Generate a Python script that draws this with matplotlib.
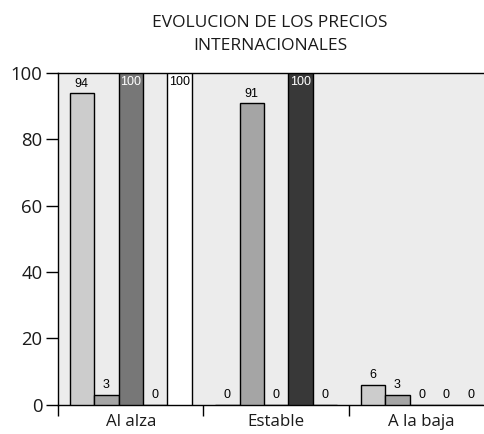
import matplotlib
matplotlib.use("Agg")
import matplotlib.pyplot as plt
import numpy as np

categories = ["Al alza", "Estable", "A la baja"]
series_values = [
    [94, 0, 6],
    [3, 91, 3],
    [100, 0, 0],
    [0, 100, 0],
    [100, 0, 0],
]
series_colors = ["#cccccc", "#a5a5a5", "#777777", "#383838", "#ffffff"]
label_inside_white = [False, False, True, True, False]
title = "EVOLUCION DE LOS PRECIOS\nINTERNACIONALES"
yticks = [0, 20, 40, 60, 80, 100]

W, H = 485, 434
fig = plt.figure(figsize=(W / 100, H / 100), dpi=100)
fig.patch.set_facecolor("white")
left, right = 58, 58 + 3 * 145.5
top, bottom = 73, 404.5
ax = fig.add_axes([left / W, 1 - bottom / H, (right - left) / W, (bottom - top) / H])
ax.set_facecolor("#ececec")

txtcol = "#1a1a1a"
n = len(series_values)
bw = 0.168
x = np.arange(len(categories))
for i, (vals, col) in enumerate(zip(series_values, series_colors)):
    pos = x + (i - (n - 1) / 2) * bw
    ax.bar(pos, vals, width=bw, color=col, edgecolor="black", linewidth=1.0, zorder=3)
    for p, v in zip(pos, vals):
        if v >= 100:
            ax.text(p, v - 1.0, str(v), ha="center", va="top",
                    color="white" if label_inside_white[i] else "black",
                    fontsize=9, family="Liberation Sans", zorder=4)
        else:
            ax.text(p, v + 1.0, str(v), ha="center", va="bottom", color="black",
                    fontsize=9, family="Liberation Sans", zorder=4)

ax.set_xlim(-0.5, 2.5)
ax.set_ylim(0, 100)
ax.set_yticks(yticks)
ax.set_yticklabels([str(t) for t in yticks], fontsize=13.3, family="Open Sans", color=txtcol)
ax.set_xticks(x)
ax.set_xticklabels(categories, fontsize=12.2, family="Open Sans", color=txtcol)
ax.tick_params(axis="x", length=0, pad=7)
ax.set_xticks([-0.5, 0.5, 1.5, 2.5], minor=True)
ax.tick_params(axis="x", which="minor", length=8, width=1, direction="out")
ax.tick_params(axis="y", length=9, width=1, direction="out", pad=2)
for s in ["left", "top", "bottom", "right"]:
    ax.spines[s].set_linewidth(1.0)
    ax.spines[s].set_color("black")

fig.text(270 / W, 1 - 34.5 / H, title, ha="center", va="center", fontsize=12.5,
         family="Open Sans", linespacing=1.55, color=txtcol)

fig.savefig("out.png", dpi=100)
